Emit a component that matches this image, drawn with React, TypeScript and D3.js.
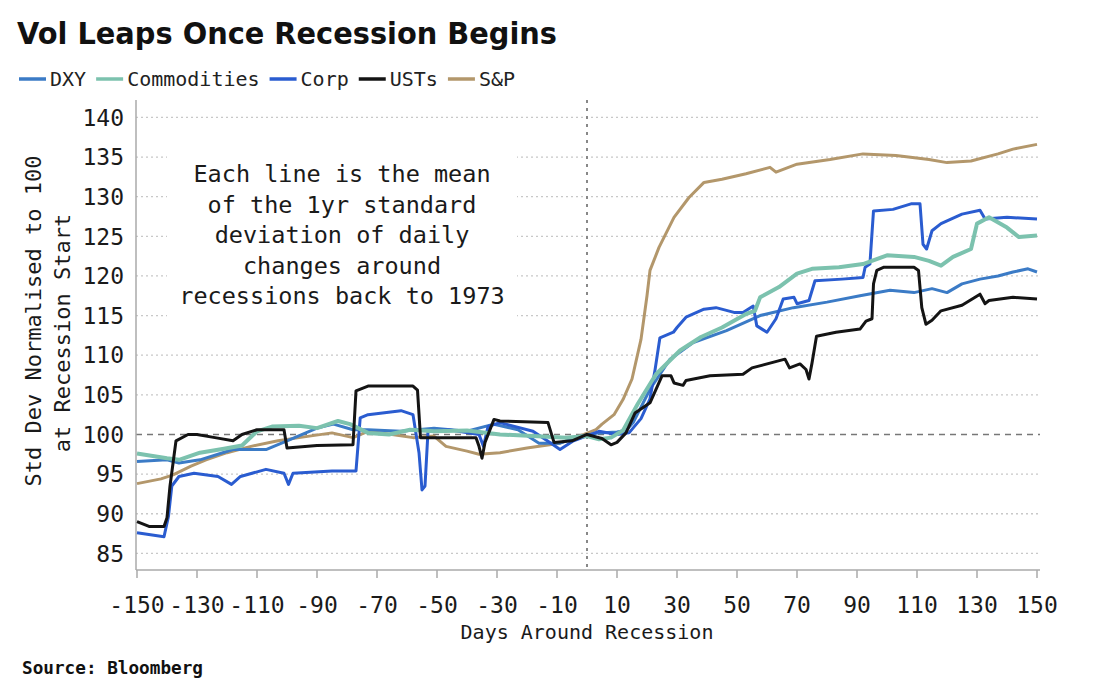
import React, { useEffect, useRef } from "react";
import * as d3 from "d3";

type Pt = [number, number]; // [day around recession, std dev index]

const seriesNames = ["DXY", "Commodities", "Corp", "USTs", "S&P"];
const seriesColors = ["#3b7bc6", "#7cc2ae", "#2a5cd0", "#141414", "#b3976b"];

const dxy: Pt[] = [
  [-150, 96.6], [-140, 96.8], [-136, 96.4], [-129, 96.8], [-118, 98.1], [-107, 98.1], [-100, 99.2],
  [-90, 100.8], [-84.5, 101.3], [-78, 100.6], [-73, 100.6], [-62, 100.4], [-51, 100.8], [-40, 100.4],
  [-31, 101.3], [-23, 100.6], [-16, 98.9], [-9, 98.9], [-2, 99.8], [4, 100.2], [10, 100.3], [13, 100.5],
  [15.4, 101.5], [21, 105.7], [27.7, 109.5], [35.4, 111.6], [46.5, 113.1], [57.7, 115], [68.8, 116],
  [80, 116.7], [91, 117.5], [101, 118.2], [109, 117.9], [115, 118.4], [120, 117.9], [125, 119],
  [131, 119.6], [137, 120], [142, 120.5], [147, 120.9], [150, 120.5],
];

const commodities: Pt[] = [
  [-150, 97.6], [-140, 97], [-136, 96.8], [-129, 97.7], [-121, 98.2], [-115, 98.6], [-110, 100.4],
  [-105, 101], [-96, 101.1], [-90, 100.8], [-83, 101.7], [-79, 101.3], [-73, 100.2], [-66, 100],
  [-59, 100.6], [-51, 100.4], [-40, 100.5], [-29, 100], [-18, 99.8], [-7, 99.6], [0, 99.8], [4, 99.4],
  [8, 99.6], [12, 100.5], [17, 103.9], [23, 107.6], [31, 110.6], [38, 112.3], [45, 113.5], [53, 115.2],
  [56, 115.6], [57.7, 117.3], [64, 118.6], [70, 120.3], [75, 120.9], [84, 121.1], [92, 121.5],
  [100, 122.6], [109, 122.4], [114, 121.9], [118, 121.3], [122, 122.4], [128, 123.4], [130, 126.6],
  [134, 127.4], [140, 126.1], [144, 124.9], [150, 125.1],
];

const corp: Pt[] = [
  [-150, 87.6], [-141, 87.1], [-139.5, 89.7], [-138.4, 93.5], [-136, 94.7], [-131, 95.1], [-123, 94.7],
  [-118.5, 93.7], [-115.5, 94.7], [-107, 95.6], [-101, 95.1], [-99.5, 93.7], [-98, 95.1], [-85, 95.4],
  [-77, 95.4], [-75.6, 102.1], [-73, 102.5], [-62, 103], [-58, 102.5], [-56, 97.7], [-55, 93],
  [-54, 93.5], [-53, 100.4], [-46, 100.6], [-36, 100], [-34.5, 98.5], [-33, 101], [-29, 101.5],
  [-18, 100.4], [-12, 98.9], [-9, 98.1], [-4.5, 99.2], [4, 100.4], [10, 100], [14, 100.2], [18, 102],
  [21, 104.5], [22.7, 108.2], [24.3, 112.2], [28.8, 112.9], [30, 113.5], [33, 114.8], [39, 115.8],
  [43, 116], [49, 115.4], [52, 115.4], [55.4, 116.2], [56.6, 113.7], [60, 112.9], [63, 114.6],
  [65.4, 117.1], [69, 117.3], [70, 116.5], [74, 116.9], [76, 119.4], [85, 119.6], [92, 119.8],
  [92.7, 121.1], [94.3, 121.5], [95.5, 128.2], [102, 128.4], [108, 129.1], [111, 129.1], [112, 124],
  [113.2, 123.4], [115, 125.7], [118, 126.6], [125, 127.8], [131, 128.3], [132.7, 127.2], [140, 127.4],
  [150, 127.2],
];

const usts: Pt[] = [
  [-150, 89], [-146, 88.4], [-141, 88.4], [-140, 89.5], [-139, 93.5], [-137, 99.2], [-133, 100],
  [-130, 100], [-124, 99.6], [-118, 99.2], [-115, 100], [-110, 100.6], [-101, 100.6], [-100, 98.3],
  [-90, 98.6], [-78, 98.7], [-77, 105.5], [-73, 106.1], [-58, 106.1], [-56.5, 105.6], [-55.5, 99.6],
  [-49, 99.6], [-37, 99.6], [-36, 98.5], [-35, 97], [-34, 99], [-31, 101.9], [-29, 101.7], [-13, 101.5],
  [-11, 99], [-5, 99.2], [0, 100], [5, 99.5], [8, 98.7], [10, 99], [13, 100.2], [16, 102.7], [21, 104],
  [25, 107.4], [28, 107.4], [29, 106.5], [32, 106.2], [33, 106.8], [41, 107.4], [52, 107.6], [55, 108.4],
  [66, 109.5], [67.5, 108.4], [71, 108.9], [73, 108.2], [74, 107], [75, 109], [76.5, 112.4], [83, 112.9],
  [91, 113.3], [93, 114.3], [95, 114.6], [95.5, 119], [96.6, 120.7], [99, 121.1], [109, 121.1],
  [110.5, 120.7], [111.6, 116], [113, 113.9], [115, 114.4], [118, 115.6], [125, 116.3], [131, 117.7],
  [132.7, 116.5], [134, 116.9], [142, 117.3], [150, 117.1],
];

const spx: Pt[] = [
  [-150, 93.8], [-142, 94.4], [-138, 94.9], [-132, 96], [-127, 96.8], [-120, 97.7], [-112, 98.5],
  [-103, 99.2], [-96, 99.6], [-85, 100.2], [-78, 99.6], [-73, 100.4], [-65, 100], [-58, 99.6],
  [-51, 99.8], [-47, 98.5], [-40, 97.9], [-36, 97.5], [-29, 97.7], [-20, 98.3], [-9, 98.9], [-1, 100],
  [3, 100.6], [5, 101.3], [9, 102.5], [12, 104.4], [15, 107], [18, 112], [20, 117.5], [21, 120.7],
  [24, 123.6], [29, 127.4], [34, 129.9], [39, 131.8], [45, 132.2], [53, 132.9], [61, 133.7], [63, 133.1],
  [70, 134.1], [81, 134.7], [92, 135.4], [103, 135.2], [114, 134.7], [120, 134.3], [128, 134.5],
  [137, 135.4], [142, 136], [150, 136.6],
];

const seriesData = [dxy, commodities, corp, usts, spx];
const drawOrder = [4, 0, 2, 1, 3];

const yTicks = [85, 90, 95, 100, 105, 110, 115, 120, 125, 130, 135, 140];
const xTicks = [-150, -130, -110, -90, -70, -50, -30, -10, 10, 30, 50, 70, 90, 110, 130, 150];
const noteLines = [
  "Each line is the mean",
  "of the 1yr standard",
  "deviation of daily",
  "changes around",
  "recessions back to 1973",
];

const mono = "'DejaVu Sans Mono', monospace";

const App: React.FC = () => {
  const svgRef = useRef<SVGSVGElement | null>(null);

  useEffect(() => {
    if (!svgRef.current) return;
    const svg = d3.select(svgRef.current);
    svg.selectAll("*").remove();

    const x = d3.scaleLinear().domain([-150, 150]).range([137, 1037]);
    const y = d3.scaleLinear().domain([82.9, 142.2]).range([570, 100]);

    svg.append("rect").attr("width", 1100).attr("height", 699).attr("fill", "#fff");

    // grid
    const grid = svg.append("g");
    yTicks.forEach((t) => {
      grid.append("line")
        .attr("x1", 136).attr("x2", 1040)
        .attr("y1", y(t)).attr("y2", y(t))
        .attr("stroke", t === 100 ? "#777" : "#c8c8c8")
        .attr("stroke-width", t === 100 ? 1.4 : 1.3)
        .attr("stroke-dasharray", t === 100 ? "6,5" : "2,3");
    });
    grid.append("line")
      .attr("x1", x(0)).attr("x2", x(0))
      .attr("y1", 100).attr("y2", 570)
      .attr("stroke", "#888")
      .attr("stroke-width", 2)
      .attr("stroke-dasharray", "3,5");

    // white box behind the note
    svg.append("rect")
      .attr("x", 167).attr("y", 132)
      .attr("width", 350).attr("height", 196)
      .attr("fill", "#fff");

    // axes
    svg.append("line")
      .attr("x1", 136).attr("x2", 136).attr("y1", 100).attr("y2", 570)
      .attr("stroke", "#aaa").attr("stroke-width", 1.5);
    svg.append("line")
      .attr("x1", 136).attr("x2", 1040).attr("y1", 570).attr("y2", 570)
      .attr("stroke", "#aaa").attr("stroke-width", 1.5);
    xTicks.forEach((t) => {
      svg.append("line")
        .attr("x1", x(t)).attr("x2", x(t)).attr("y1", 570).attr("y2", 578)
        .attr("stroke", "#aaa").attr("stroke-width", 1.5);
    });

    svg.append("g").selectAll("text").data(yTicks).enter().append("text")
      .attr("x", 124).attr("y", (d) => y(d)).attr("dy", "0.36em")
      .attr("text-anchor", "end")
      .style("font-family", mono).style("font-size", "23px").attr("fill", "#1a1a1a")
      .text((d) => d);

    svg.append("g").selectAll("text").data(xTicks).enter().append("text")
      .attr("x", (d) => x(d)).attr("y", 613)
      .attr("text-anchor", "middle")
      .style("font-family", mono).style("font-size", "23px").attr("fill", "#1a1a1a")
      .text((d) => d);

    // series
    const line = d3.line<Pt>().x((d) => x(d[0])).y((d) => y(d[1])).curve(d3.curveLinear);
    drawOrder.forEach((i) => {
      svg.append("path")
        .attr("d", line(seriesData[i]) || "")
        .attr("fill", "none")
        .attr("stroke", seriesColors[i])
        .attr("stroke-width", i === 1 ? 4 : 3)
        .attr("stroke-linejoin", "round");
    });

    // note
    svg.append("g").selectAll("text").data(noteLines).enter().append("text")
      .attr("x", 342).attr("y", (_, i) => 182 + i * 30.5)
      .attr("text-anchor", "middle")
      .style("font-family", mono).style("font-size", "23.5px").attr("fill", "#1a1a1a")
      .text((d) => d);

    // title
    svg.append("text")
      .attr("x", 17).attr("y", 44)
      .attr("textLength", 540).attr("lengthAdjust", "spacingAndGlyphs")
      .style("font-family", "'DejaVu Sans', sans-serif").style("font-size", "30px")
      .style("font-weight", "bold").attr("fill", "#111")
      .text("Vol Leaps Once Recession Begins");

    // legend
    let lx = 19;
    seriesNames.forEach((name, i) => {
      svg.append("line")
        .attr("x1", lx).attr("x2", lx + 27).attr("y1", 79).attr("y2", 79)
        .attr("stroke", seriesColors[i]).attr("stroke-width", 3.5);
      const t = svg.append("text")
        .attr("x", lx + 31).attr("y", 86)
        .style("font-family", mono).style("font-size", "20px").attr("fill", "#222")
        .text(name);
      const w = (t.node() as SVGTextElement).getComputedTextLength();
      lx = lx + 31 + w + 10;
    });

    // axis titles
    svg.append("text")
      .attr("transform", "translate(33,321) rotate(-90)")
      .attr("text-anchor", "middle").attr("dy", "0.36em")
      .style("font-family", mono).style("font-size", "22px").attr("fill", "#1a1a1a")
      .text("Std Dev Normalised to 100");
    svg.append("text")
      .attr("transform", "translate(62,333) rotate(-90)")
      .attr("text-anchor", "middle").attr("dy", "0.36em")
      .style("font-family", mono).style("font-size", "22px").attr("fill", "#1a1a1a")
      .text("at Recession Start");
    svg.append("text")
      .attr("x", 587).attr("y", 639).attr("text-anchor", "middle")
      .style("font-family", mono).style("font-size", "20px").attr("fill", "#1a1a1a")
      .text("Days Around Recession");

    svg.append("text")
      .attr("x", 22).attr("y", 674)
      .attr("textLength", 181).attr("lengthAdjust", "spacingAndGlyphs")
      .style("font-family", mono).style("font-size", "17px").style("font-weight", "bold")
      .attr("fill", "#111")
      .text("Source: Bloomberg");
  }, []);

  return (
    <div style={{ position: "absolute", left: 0, top: 0 }}>
      <svg ref={svgRef} width={1100} height={699} style={{ display: "block" }}></svg>
    </div>
  );
};

export default App;
